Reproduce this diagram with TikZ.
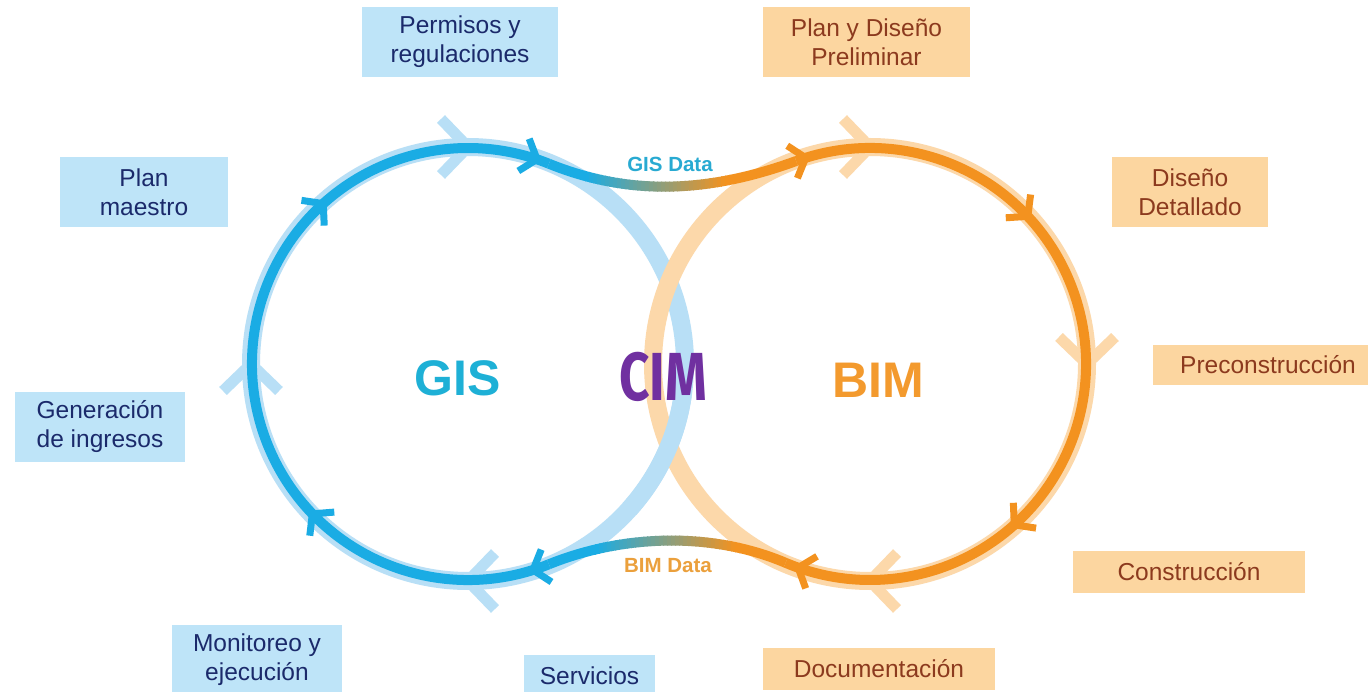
\documentclass[tikz,border=0pt]{standalone}
\usepackage{fontspec}
\setmainfont{Liberation Sans}
\newfontfamily\cimfont{Fira Sans}
\usetikzlibrary{decorations.markings}
\definecolor{dblue}{HTML}{1AACE4}
\definecolor{lblue}{HTML}{B8DFF6}
\definecolor{dorange}{HTML}{F3921F}
\definecolor{lorange}{HTML}{FCD8AA}
\definecolor{bluebox}{HTML}{BEE4F8}
\definecolor{orangebox}{HTML}{FCD6A0}
\definecolor{navytxt}{HTML}{1B2A6B}
\definecolor{browntxt}{HTML}{8C3A1E}
\definecolor{gistxt}{HTML}{1EB0D6}
\definecolor{bimtxt}{HTML}{F39A2E}
\definecolor{cimtxt}{HTML}{7030A0}
\definecolor{gisdata}{HTML}{28AAD2}
\definecolor{bimdata}{HTML}{EBA03C}
\newcommand{\dchev}[1]{\draw[#1,line width=7pt,line cap=butt,line join=miter] (-14,-17) -- (0,0) -- (-14,17);}
\newcommand{\lchev}[1]{\draw[#1,line width=11pt,line cap=butt,line join=miter] (-27,-28) -- (0,0) -- (-27,28);}
\tikzset{
  bbox/.style={rectangle, fill=bluebox, text=navytxt, inner sep=0pt, align=center, font=\fontsize{24.5}{29}\selectfont},
  obox/.style={rectangle, fill=orangebox, text=browntxt, inner sep=0pt, align=center, font=\fontsize{24.5}{29}\selectfont},
  dline/.style={line width=10pt},
  lline/.style={line width=18pt},
  big/.style={font=\fontsize{50}{60}\selectfont\bfseries},
  datalbl/.style={font=\fontsize{20.5}{24}\selectfont\bfseries}
}
\begin{document}
\begin{tikzpicture}[x=1pt,y=-1pt]
\useasboundingbox (0,0) rectangle (1368,692);
\fill[white] (0,0) rectangle (1368,692);

\coordinate (bc) at (468,364);
\coordinate (oc) at (870,364);

% light background circles
\draw[lblue, lline, postaction={decorate, decoration={markings,
   mark=at position 0.25 with {\lchev{lblue}},
   mark=at position 0.5 with {\lchev{lblue}},
   mark=at position 0.75 with {\lchev{lblue}}}}]
  ([shift={(0:217)}]bc) arc[start angle=0, end angle=360, radius=217];
\draw[lorange, lline, postaction={decorate, decoration={markings,
   mark=at position 0.25 with {\lchev{lorange}},
   mark=at position 0.5 with {\lchev{lorange}},
   mark=at position 0.75 with {\lchev{lorange}}}}]
  ([shift={(-180:217)}]oc) arc[start angle=-180, end angle=180, radius=217];
\draw[lblue, lline] ([shift={(8:217)}]bc) arc[start angle=8, end angle=42, radius=217];

% connector points
\coordinate (t1) at ([shift={(292:216)}]bc);
\coordinate (t1c) at ([shift={(22:90)}]t1);
\coordinate (t2) at ([shift={(250:216)}]oc);
\coordinate (t2c) at ([shift={(160:90)}]t2);
\coordinate (b1) at ([shift={(113:216)}]oc);
\coordinate (b1c) at ([shift={(203:80)}]b1);
\coordinate (b2) at ([shift={(68:216)}]bc);
\coordinate (b2c) at ([shift={(338:80)}]b2);

% GIS Data connector (gradient blue -> orange)
\begin{scope}
  \clip (500,100) rectangle (586,260);
  \draw[dblue, dline] (t1) .. controls (t1c) and (t2c) .. (t2);
\end{scope}
\begin{scope}
  \clip (729,100) rectangle (860,260);
  \draw[dorange, dline] (t1) .. controls (t1c) and (t2c) .. (t2);
\end{scope}
\foreach \i in {0,...,35} {
  \pgfmathsetmacro\xa{585+\i*4}
  \pgfmathtruncatemacro\p{100-\i*100/35}
  \begin{scope}
    \clip (\xa,100) rectangle ({\xa+5},260);
    \draw[dline, draw=dblue!\p!dorange] (t1) .. controls (t1c) and (t2c) .. (t2);
  \end{scope}
}
% BIM Data connector (gradient orange -> blue)
\begin{scope}
  \clip (500,480) rectangle (596,640);
  \draw[dblue, dline] (b1) .. controls (b1c) and (b2c) .. (b2);
\end{scope}
\begin{scope}
  \clip (739,480) rectangle (860,640);
  \draw[dorange, dline] (b1) .. controls (b1c) and (b2c) .. (b2);
\end{scope}
\foreach \i in {0,...,35} {
  \pgfmathsetmacro\xa{595+\i*4}
  \pgfmathtruncatemacro\p{100-\i*100/35}
  \begin{scope}
    \clip (\xa,480) rectangle ({\xa+5},640);
    \draw[dline, draw=dblue!\p!dorange] (b1) .. controls (b1c) and (b2c) .. (b2);
  \end{scope}
}

% dark arcs with arrow marks
\draw[dblue, dline, postaction={decorate, decoration={markings,
   mark=at position 0.02 with {\dchev{dblue}},
   mark=at position 0.304 with {\dchev{dblue}},
   mark=at position 0.714 with {\dchev{dblue}},
   mark=at position 0.985 with {\dchev{dblue}}}}]
  (b2) arc[start angle=68, end angle=292, radius=216];
\draw[dorange, dline, postaction={decorate, decoration={markings,
   mark=at position 0.012 with {\dchev{dorange}},
   mark=at position 0.30 with {\dchev{dorange}},
   mark=at position 0.709 with {\dchev{dorange}},
   mark=at position 0.984 with {\dchev{dorange}}}}]
  (t2) arc[start angle=250, end angle=473, radius=216];

% center labels
\node[big, text=gistxt] (gis) at (458,378) {GIS};
\node[big, text=bimtxt] (bim) at (878,380) {BIM};
\node[text=cimtxt, font=\cimfont\bfseries\fontsize{68}{70}\selectfont] (cim) at (663,377) {\scalebox{0.78}[1]{CIM}};
\node[datalbl, text=gisdata] (gisd) at (670,164) {GIS Data};
\node[datalbl, text=bimdata] (bimd) at (668,566) {BIM Data};

% boxes
\node[bbox, minimum width=196pt, minimum height=70pt] (perm) at (460,42) {Permisos y\\regulaciones};
\node[obox, minimum width=207pt, minimum height=70pt] (plan) at (866.5,42) {Plan y Diseño\\Preliminar};
\node[bbox, minimum width=168pt, minimum height=70pt] (maes) at (144,192) {Plan\\maestro};
\node[obox, minimum width=156pt, minimum height=70pt] (deta) at (1190,192) {Diseño\\Detallado};
\node[obox, minimum width=230pt, minimum height=40pt] (prec) at (1268,365) {Preconstrucción};
\node[bbox, minimum width=170pt, minimum height=70pt] (gene) at (100,427) {Generación\\de ingresos};
\node[obox, minimum width=232pt, minimum height=42pt] (cons) at (1189,572) {Construcción};
\node[obox, minimum width=232pt, minimum height=42pt] (docu) at (879,669) {Documentación};
\node[bbox, minimum width=170pt, minimum height=70pt] (moni) at (257,660) {Monitoreo y\\ejecución};
\node[bbox, minimum width=131pt, minimum height=42pt] (serv) at (589.5,676) {Servicios};
\end{tikzpicture}
\end{document}
